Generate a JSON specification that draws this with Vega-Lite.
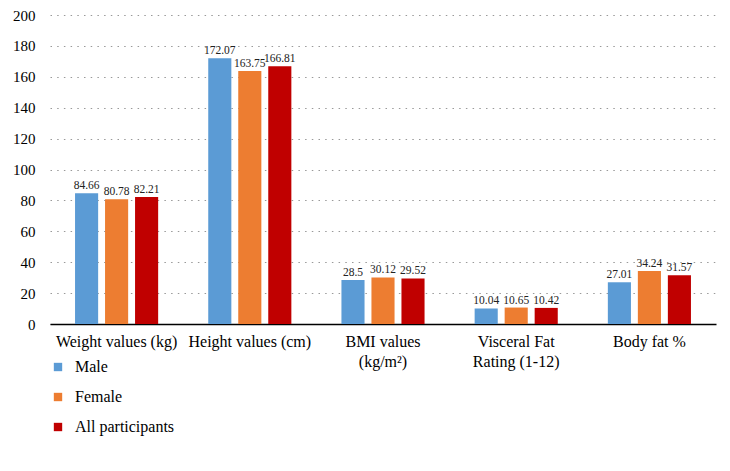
{
  "$schema": "https://vega.github.io/schema/vega-lite/v6.json",
  "width": 666,
  "height": 309,
  "autosize": {"type": "none"},
  "padding": {"left": 50, "top": 15, "right": 14, "bottom": 147},
  "background": "white",
  "config": {
    "view": {"stroke": null},
    "font": "Liberation Serif",
    "axis": {"labelFont": "Liberation Serif"},
    "legend": {"labelFont": "Liberation Serif"}
  },
  "data": {
    "values": [
      {"measure": "Weight values (kg)", "group": "Male", "value": 84.66},
      {"measure": "Weight values (kg)", "group": "Female", "value": 80.78},
      {"measure": "Weight values (kg)", "group": "All participants", "value": 82.21},
      {"measure": "Height values (cm)", "group": "Male", "value": 172.07},
      {"measure": "Height values (cm)", "group": "Female", "value": 163.75},
      {"measure": "Height values (cm)", "group": "All participants", "value": 166.81},
      {"measure": "BMI values|(kg/m²)", "group": "Male", "value": 28.5},
      {"measure": "BMI values|(kg/m²)", "group": "Female", "value": 30.12},
      {"measure": "BMI values|(kg/m²)", "group": "All participants", "value": 29.52},
      {"measure": "Visceral Fat|Rating (1-12)", "group": "Male", "value": 10.04},
      {"measure": "Visceral Fat|Rating (1-12)", "group": "Female", "value": 10.65},
      {"measure": "Visceral Fat|Rating (1-12)", "group": "All participants", "value": 10.42},
      {"measure": "Body fat %", "group": "Male", "value": 27.01},
      {"measure": "Body fat %", "group": "Female", "value": 34.24},
      {"measure": "Body fat %", "group": "All participants", "value": 31.57}
    ]
  },
  "encoding": {
    "x": {
      "field": "measure",
      "type": "nominal",
      "sort": null,
      "scale": {"paddingInner": 0.376, "paddingOuter": 0.188},
      "axis": {
        "title": null,
        "labelAngle": 0,
        "labelExpr": "split(datum.value, '|')",
        "labelFontSize": 16,
        "labelColor": "#000",
        "labelPadding": 9,
        "labelLineHeight": 20,
        "ticks": false,
        "domainColor": "#000",
        "domainWidth": 1.5
      }
    },
    "xOffset": {
      "field": "group",
      "type": "nominal",
      "sort": ["Male", "Female", "All participants"],
      "scale": {"paddingInner": 0.23, "paddingOuter": 0}
    },
    "y": {
      "field": "value",
      "type": "quantitative",
      "scale": {"domain": [0, 200]},
      "axis": {
        "title": null,
        "values": [0, 20, 40, 60, 80, 100, 120, 140, 160, 180, 200],
        "labelOverlap": false,
        "labelFontSize": 15,
        "labelColor": "#000",
        "labelPadding": 15,
        "ticks": false,
        "domain": false,
        "grid": true,
        "gridColor": "#999",
        "gridDash": [1.5, 5.2],
        "gridWidth": 1
      }
    }
  },
  "layer": [
    {
      "mark": {"type": "bar"},
      "encoding": {
        "color": {
          "field": "group",
          "type": "nominal",
          "sort": ["Male", "Female", "All participants"],
          "scale": {
            "domain": ["Male", "Female", "All participants"],
            "range": ["#5B9BD5", "#ED7D31", "#C00000"]
          },
          "legend": {
            "title": null,
            "orient": "none",
            "legendX": 0,
            "legendY": 344,
            "direction": "vertical",
            "symbolType": "square",
            "symbolSize": 70,
            "symbolStrokeWidth": 0,
            "labelFontSize": 16,
            "labelColor": "#000",
            "labelOffset": 9,
            "rowPadding": 14
          }
        }
      }
    },
    {
      "mark": {"type": "text", "dy": -7, "fontSize": 11.5, "color": "#222"},
      "encoding": {
        "text": {"field": "value", "type": "quantitative"}
      }
    }
  ]
}
